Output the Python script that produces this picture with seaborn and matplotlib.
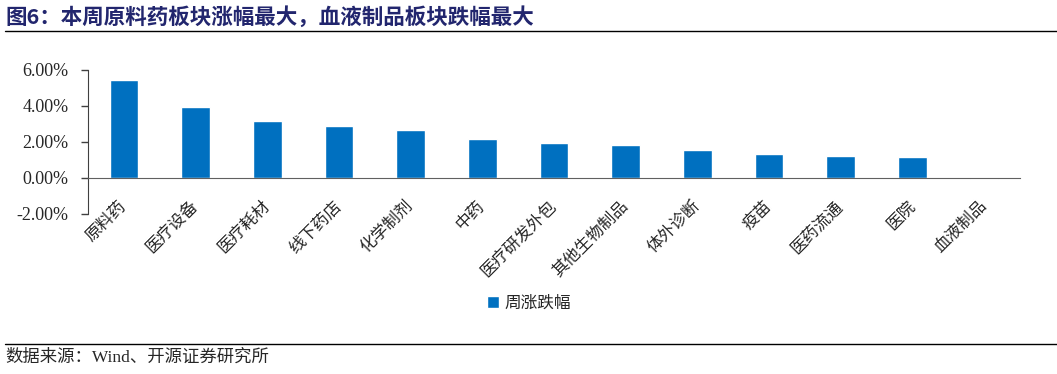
import matplotlib
matplotlib.use("Agg")
import matplotlib.pyplot as plt
import matplotlib.ticker as mticker
import matplotlib.transforms as mtransforms
from matplotlib.lines import Line2D
from matplotlib.patches import Patch
import seaborn as sns

categories = ["原料药", "医疗设备", "医疗耗材", "线下药店", "化学制剂", "中药",
              "医疗研发外包", "其他生物制品", "体外诊断", "疫苗", "医药流通", "医院", "血液制品"]
weekly_change = [5.44, 3.94, 3.18, 2.89, 2.67, 2.17, 1.94, 1.85, 1.57, 1.35, 1.21, 1.19, -0.05]
series_name = "周涨跌幅"
title_text = "图6：本周原料药板块涨幅最大，血液制品板块跌幅最大"
source_text = "数据来源：Wind、开源证券研究所"

sns.set_style("white")
plt.rcParams["font.family"] = ["Noto Sans CJK SC", "DejaVu Sans"]

bar_color = "#0070C0"
title_color = "#22266E"

fig = plt.figure(figsize=(10.57, 3.74), dpi=100)
ax = fig.add_axes([88 / 1057, 1 - 214 / 374, (1020 - 88) / 1057, (214 - 70) / 374])

sns.barplot(x=categories, y=weekly_change, color=bar_color, width=0.4,
            saturation=1, ax=ax)

ax.set_xlim(-0.5, len(categories) - 0.5)
ax.set_ylim(-2, 6)
ax.yaxis.set_major_locator(mticker.MultipleLocator(2))
ax.yaxis.set_major_formatter(mticker.FuncFormatter(lambda v, p: f"{v:.2f}%"))
for lab in ax.get_yticklabels():
    lab.set_fontfamily("Liberation Serif")
    lab.set_fontsize(13)
ax.tick_params(axis="y", direction="out", length=5, width=1, color="#404040",
               left=True, pad=9)

# x axis sits at zero, ticks between categories pointing up
for s in ["top", "right"]:
    ax.spines[s].set_visible(False)
ax.spines["bottom"].set_position(("data", 0))
ax.spines["bottom"].set_color("#606060")
ax.spines["left"].set_color("#404040")
ax.set_xticks([i + 0.5 for i in range(len(categories))], minor=True)
ax.tick_params(axis="x", which="minor", direction="in", length=5, color="#404040")
ax.tick_params(axis="x", which="major", length=0, pad=14)
ax.set_xticks(range(len(categories)))
ax.set_xticklabels(categories, rotation=45, ha="right", rotation_mode="anchor",
                   fontsize=12)
shift = mtransforms.ScaledTranslation(-6 / 100, 0, fig.dpi_scale_trans)
for lab in ax.get_xticklabels():
    lab.set_transform(lab.get_transform() + shift)
ax.set_xlabel("")
ax.set_ylabel("")

fig.legend(handles=[Patch(facecolor=bar_color, label=series_name)],
           loc="center", bbox_to_anchor=(529 / 1057, 1 - 303 / 374), frameon=False,
           fontsize=12, handlelength=0.75, handleheight=0.75, handletextpad=0.35)

fig.text(5 / 1057, 1 - 17 / 374, title_text, fontsize=15.5, fontweight="bold",
         color=title_color, va="center", ha="left")
fig.add_artist(Line2D([5 / 1057, 1], [1 - 31 / 374] * 2, color="black", lw=1))
fig.add_artist(Line2D([5 / 1057, 1], [1 - 344 / 374] * 2, color="black", lw=1))
fig.text(5 / 1057, 1 - 358 / 374, source_text, fontsize=12.5, va="center", ha="left",
         family=["Liberation Serif", "Noto Sans CJK SC"])

fig.savefig("out.png", dpi=100)
